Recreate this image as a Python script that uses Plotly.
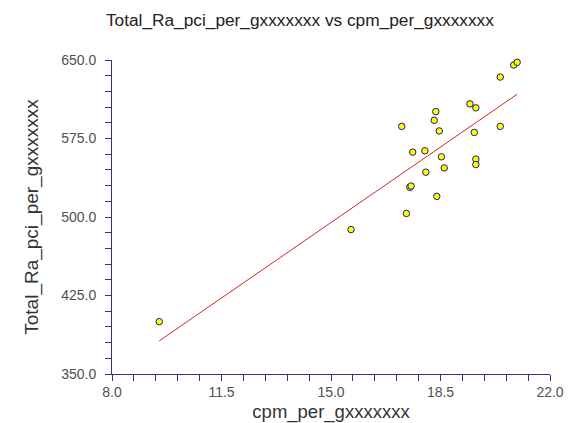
import numpy as np
import plotly.graph_objects as go

cpm_per_g = [9.51, 15.64, 17.41, 17.52, 17.56, 18.03, 18.38, 17.61, 18.00, 17.26,
             18.30, 18.35, 18.46, 18.53, 18.62, 19.44, 19.63, 19.58, 19.63, 19.63,
             20.41, 20.41, 20.84, 20.95]
total_ra = [400.0, 488.0, 503.4, 528.4, 529.6, 542.8, 519.7, 562.0, 563.3, 586.6,
            592.4, 600.7, 582.2, 557.5, 546.9, 608.1, 604.3, 580.8, 555.3, 550.1,
            633.7, 586.6, 645.2, 647.8]

x_ticks = [8.0, 11.5, 15.0, 18.5, 22.0]
y_ticks = [350.0, 425.0, 500.0, 575.0, 650.0]

slope, intercept = np.polyfit(cpm_per_g, total_ra, 1)
fit_x = [min(cpm_per_g), max(cpm_per_g)]
fit_y = [slope * v + intercept for v in fit_x]

axis_color = "#30308f"
fam = "Liberation Sans, Arial, sans-serif"
tick_font = dict(family=fam, size=14, color="#505050")

fig = go.Figure()
fig.add_trace(go.Scatter(x=fit_x, y=fit_y, mode="lines",
                         line=dict(color="#e02020", width=1), hoverinfo="skip"))
fig.add_trace(go.Scatter(x=cpm_per_g, y=total_ra, mode="markers",
                         marker=dict(size=6.5, color="#ffff00",
                                     line=dict(color="#1a1a80", width=1)),
                         cliponaxis=False))

fig.update_layout(
    width=565, height=415,
    margin=dict(l=104, r=23, t=52, b=49),
    paper_bgcolor="white", plot_bgcolor="white",
    showlegend=False,
    title=dict(text="Total_Ra_pci_per_gxxxxxxx vs cpm_per_gxxxxxxx",
               x=0.429, xref="paper", xanchor="center",
               y=1 - 12 / 415, yref="container", yanchor="middle",
               font=dict(family=fam, size=17.3, color="#222222")),
)
fig.update_xaxes(
    range=[8, 22], tickvals=x_ticks, ticktext=[f"{v:.1f}" for v in x_ticks],
    automargin=False,
    showgrid=False, zeroline=False, showline=True, linecolor=axis_color, linewidth=1,
    ticks="outside", ticklen=6, tickcolor=axis_color, tickfont=tick_font,
    ticklabelstandoff=-1,
    minor=dict(dtick=0.7, tick0=8, ticks="outside", ticklen=6, tickcolor=axis_color, showgrid=False),
    title=dict(text="cpm_per_gxxxxxxx", font=dict(family=fam, size=18.5, color="#333333"), standoff=8),
)
fig.update_yaxes(
    range=[350, 650], tickvals=y_ticks, ticktext=[f"{v:.1f}" for v in y_ticks],
    automargin=False,
    showgrid=False, zeroline=False, showline=True, linecolor=axis_color, linewidth=1,
    ticks="outside", ticklen=6, tickcolor=axis_color, tickfont=tick_font,
    ticklabelstandoff=6,
    minor=dict(dtick=15, tick0=350, ticks="outside", ticklen=6, tickcolor=axis_color, showgrid=False),
    title=dict(text="Total_Ra_pci_per_gxxxxxxx", font=dict(family=fam, size=19, color="#333333"), standoff=17),
)

fig.write_html("out.html")
